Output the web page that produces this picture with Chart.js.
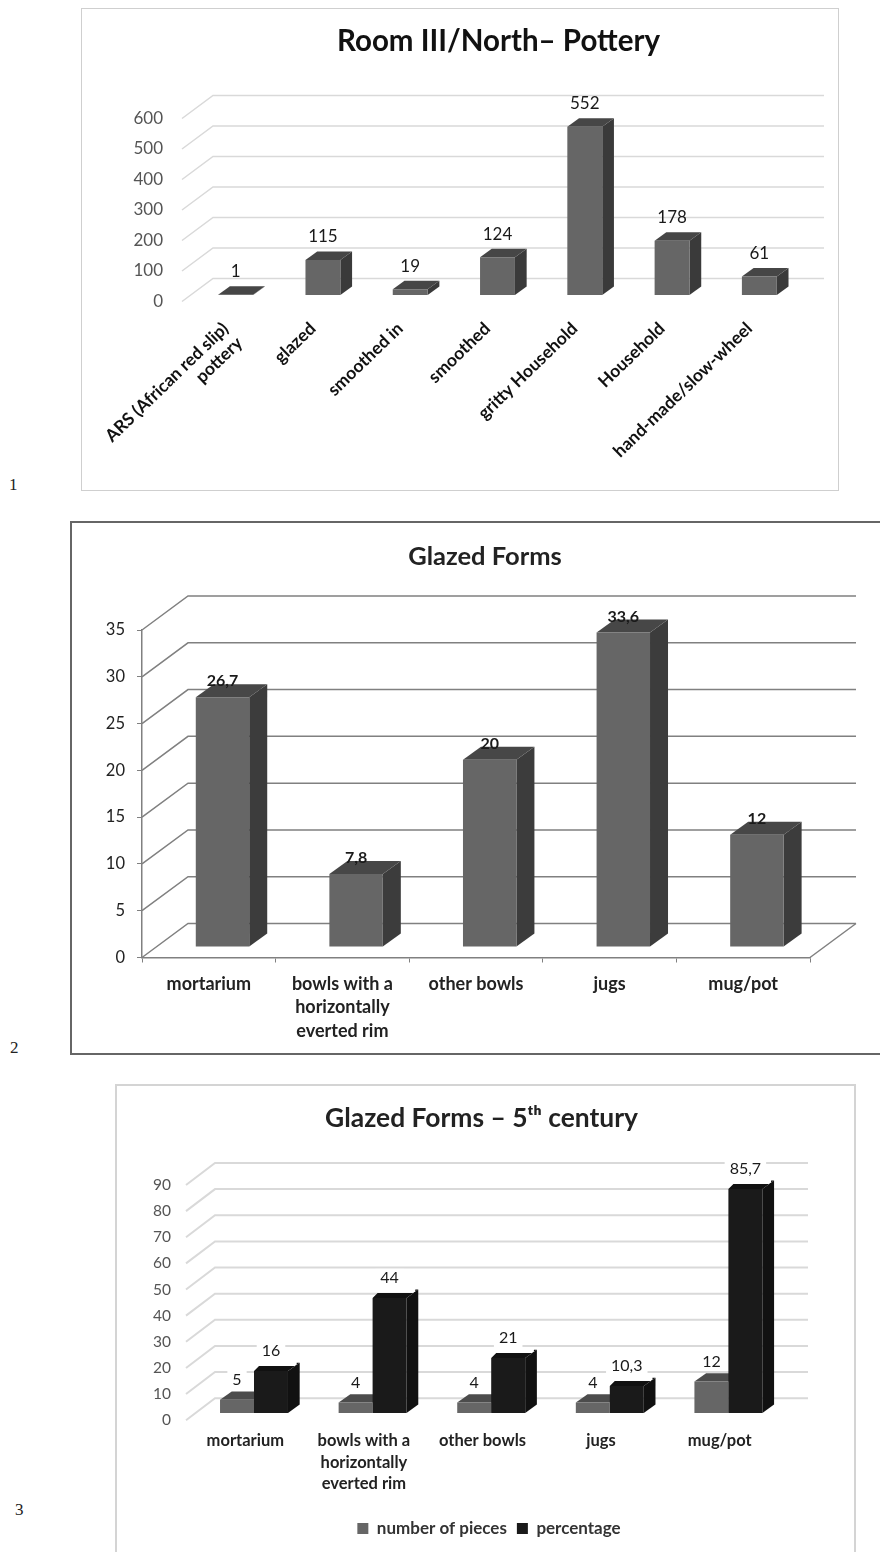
<!DOCTYPE html>
<html>
<head>
<meta charset="utf-8">
<title>Pottery charts</title>
<script src="https://cdn.jsdelivr.net/npm/chart.js@4"></script>
<style>
  html, body { margin: 0; padding: 0; background: #fff; width: 880px; height: 1552px; overflow: hidden; }
  .box { position: absolute; box-sizing: border-box; background: #fff; }
  canvas { position: absolute; }
  .num { position: absolute; font: 17px "Liberation Serif", serif; color: #222; }
</style>
</head>
<body>
<div class="box" style="left:81px;top:8px;width:758px;height:483px;border:1.5px solid #cfcfcf"></div>
<div class="box" style="left:70px;top:521px;width:830px;height:534px;border:2px solid #666"></div>
<div class="box" style="left:115px;top:1084px;width:741px;height:500px;border:2px solid #d4d4d4"></div>
<canvas id="chart1" width="796" height="482" style="left:100px;top:8px"></canvas>
<canvas id="chart2" width="830" height="532" style="left:70px;top:522px"></canvas>
<canvas id="chart3" width="746" height="468" style="left:115px;top:1084px"></canvas>
<div class="num" style="left:9px;top:475px">1</div>
<div class="num" style="left:10px;top:1038px">2</div>
<div class="num" style="left:15px;top:1500px">3</div>
<script>
const potteryLabels = [['ARS (African red slip)', 'pottery'], 'glazed', 'smoothed in', 'smoothed', 'gritty Household', 'Household', 'hand-made/slow-wheel'];
const potteryValues = [1, 115, 19, 124, 552, 178, 61];

const formLabels = ['mortarium', ['bowls with a', 'horizontally', 'everted rim'], 'other bowls', 'jugs', 'mug/pot'];
const glazedValues = [26.7, 7.8, 20, 33.6, 12];

const piecesValues = [5, 4, 4, 4, 12];
const percentValues = [16, 44, 21, 10.3, 85.7];

Chart.defaults.font.family = 'Lato, "Open Sans", sans-serif';
Chart.defaults.animation = false;

// fake 3D: back wall lines, side and top faces of bars, value labels
const depth3d = {
  id: 'depth3d',
  afterLayout(chart, args, o) {
    // title and legend are not centred on the plot in the original
    if (o.titleShift) {
      chart.titleBlock.left += o.titleShift;
      chart.titleBlock.right += o.titleShift;
    }
    if (o.legendShift) {
      chart.legend.left += o.legendShift;
      chart.legend.right += o.legendShift;
    }
  },
  beforeDatasetsDraw(chart, args, o) {
    const ctx = chart.ctx, y = chart.scales.y, a = chart.chartArea;
    ctx.save();
    ctx.strokeStyle = o.wallColor;
    ctx.lineWidth = o.wallWidth;
    y.ticks.forEach(t => {
      const py = y.getPixelForValue(t.value);
      ctx.beginPath();
      ctx.moveTo(a.left, py);
      ctx.lineTo(a.left + o.wall[0], py + o.wall[1]);
      ctx.lineTo(a.right + o.wall[0], py + o.wall[1]);
      ctx.stroke();
    });
    if (o.floor) {
      ctx.beginPath();
      ctx.moveTo(a.right, a.bottom);
      ctx.lineTo(a.right + o.wall[0], a.bottom + o.wall[1]);
      ctx.stroke();
    }
    ctx.translate(o.shift[0], o.shift[1]);
    chart.data.datasets.forEach((ds, i) => {
      chart.getDatasetMeta(i).data.forEach(bar => {
        const l = bar.x - bar.width / 2, r = bar.x + bar.width / 2;
        const dx = o.bar[0], dy = o.bar[1];
        ctx.fillStyle = ds.sideColor;
        ctx.beginPath();
        ctx.moveTo(r, bar.y);
        ctx.lineTo(r + dx, bar.y + dy);
        ctx.lineTo(r + dx, bar.base + dy);
        ctx.lineTo(r, bar.base);
        ctx.closePath();
        ctx.fill();
        ctx.fillStyle = ds.topColor;
        ctx.beginPath();
        ctx.moveTo(l, bar.y);
        if (ds.flatTop) {
          // black bars have a thin lid with a small notch at the back corner
          ctx.lineTo(l + 5, bar.y - 5);
          ctx.lineTo(r + dx - 3, bar.y - 5);
          ctx.lineTo(r + dx - 3, bar.y + dy);
        } else {
          ctx.lineTo(l + dx, bar.y + dy);
        }
        ctx.lineTo(r + dx, bar.y + dy);
        ctx.lineTo(r, bar.y);
        ctx.closePath();
        ctx.fill();
      });
    });
  },
  afterDatasetsDraw(chart, args, o) {
    const ctx = chart.ctx;
    ctx.restore();
    ctx.save();
    ctx.font = o.labelFont;
    ctx.textAlign = 'center';
    ctx.textBaseline = 'middle';
    chart.data.datasets.forEach((ds, i) => {
      chart.getDatasetMeta(i).data.forEach((bar, k) => {
        const txt = String(ds.data[k]).replace('.', ',');
        const lx = bar.x + o.shift[0], ly = bar.y + o.shift[1] - o.labelGap;
        if (o.labelBg) {
          const w = ctx.measureText(txt).width + 10;
          ctx.fillStyle = '#fff';
          ctx.fillRect(lx - w / 2, ly - 9, w, 18);
        }
        ctx.fillStyle = '#1a1a1a';
        ctx.fillText(txt, lx, ly);
      });
    });
    ctx.restore();
  }
};

function fixY(width) {
  return s => { s.width = width; s.paddingTop = 0; s.paddingBottom = 0; };
}
function fixX(height) {
  return s => { s.height = height; s.paddingLeft = 0; s.paddingRight = 0; };
}

new Chart('chart1', {
  type: 'bar',
  plugins: [depth3d],
  data: {
    labels: potteryLabels,
    datasets: [{ data: potteryValues, backgroundColor: '#666666', sideColor: '#3a3a3a', topColor: '#464646', clip: false, categoryPercentage: 0.4, barPercentage: 1 }]
  },
  options: {
    responsive: false,
    layout: { padding: { right: 103 } },
    plugins: {
      legend: { display: false },
      tooltip: { enabled: false },
      title: { display: true, text: 'Room III/North\u2013 Pottery', color: '#111', font: { size: 29.5, weight: 'bold' }, padding: { top: 15.3, bottom: 59.8 } },
      depth3d: { wall: [31, -23], shift: [10, -6.5], bar: [11.7, -8.5], wallColor: '#d9d9d9', wallWidth: 1.5, labelFont: '17px Lato', labelGap: 23, titleShift: 52 }
    },
    scales: {
      y: {
        min: 0, max: 600,
        afterFit: fixY(82),
        border: { display: false },
        grid: { display: false },
        ticks: { stepSize: 100, padding: 11, color: '#555', font: { size: 17 } }
      },
      x: {
        afterFit: fixX(188.5),
        border: { display: false },
        grid: { display: false },
        ticks: { minRotation: 44, maxRotation: 44, padding: 9, color: '#111', font: { size: 17.5, weight: 'bold', lineHeight: 1.15 } }
      }
    }
  }
});

new Chart('chart2', {
  type: 'bar',
  plugins: [depth3d],
  data: {
    labels: formLabels,
    datasets: [{ data: glazedValues, backgroundColor: '#666666', sideColor: '#3c3c3c', topColor: '#474747', clip: false, categoryPercentage: 0.4, barPercentage: 1 }]
  },
  options: {
    responsive: false,
    layout: { padding: { right: 90 } },
    plugins: {
      legend: { display: false },
      tooltip: { enabled: false },
      title: { display: true, text: 'Glazed Forms', color: '#222', font: { size: 25.5, weight: 'bold' }, padding: { top: 19.7, bottom: 57.7 } },
      depth3d: { wall: [46, -34], shift: [13.7, -10.5], bar: [18, -13], wallColor: '#808080', wallWidth: 1.5, floor: true, labelFont: 'bold 16px Lato', labelGap: 16, titleShift: 45 }
    },
    scales: {
      y: {
        min: 0, max: 35,
        afterFit: fixY(72),
        border: { color: '#808080', width: 1.5 },
        grid: { drawOnChartArea: false, tickLength: 5, color: '#808080' },
        ticks: { stepSize: 5, padding: 12, color: '#222', font: { size: 16.5 } }
      },
      x: {
        afterFit: fixX(96.5),
        border: { color: '#808080', width: 1.5 },
        grid: { drawOnChartArea: false, tickLength: 5, color: '#808080', offset: true },
        ticks: { maxRotation: 0, padding: 10, color: '#222', font: { size: 18, weight: 'bold', lineHeight: 1.3 } }
      }
    }
  }
});

new Chart('chart3', {
  type: 'bar',
  plugins: [depth3d],
  data: {
    labels: formLabels,
    datasets: [
      { label: 'number of pieces', data: piecesValues, backgroundColor: '#666666', sideColor: '#3c3c3c', topColor: '#4c4c4c', clip: false, categoryPercentage: 0.573, barPercentage: 1 },
      { label: 'percentage', data: percentValues, backgroundColor: '#1a1a1a', sideColor: '#111111', topColor: '#111111', flatTop: true, clip: false, categoryPercentage: 0.573, barPercentage: 1 }
    ]
  },
  options: {
    responsive: false,
    layout: { padding: { right: 82, bottom: 5 } },
    plugins: {
      tooltip: { enabled: false },
      title: { display: true, fullSize: false, text: 'Glazed Forms \u2013 5\u1d57\u02b0 century', color: '#222', font: { size: 26.4, weight: 'bold' }, padding: { top: 19, bottom: 50.3 } },
      legend: {
        position: 'bottom',
        labels: { boxWidth: 11, boxHeight: 11, padding: 10, color: '#333', font: { size: 17, weight: 'bold' } }
      },
      depth3d: { wall: [29, -22], shift: [8.7, -7.3], bar: [11.7, -8.3], wallColor: '#d9d9d9', wallWidth: 2, labelFont: '16px Lato', labelGap: 20, labelBg: true, titleShift: -1, legendShift: 42 }
    },
    scales: {
      y: {
        min: 0, max: 90,
        afterFit: fixY(71),
        border: { display: false },
        grid: { display: false },
        ticks: { stepSize: 10, padding: 7, color: '#555', font: { size: 15.5 } }
      },
      x: {
        afterFit: fixX(89.8),
        border: { display: false },
        grid: { display: false },
        ticks: { maxRotation: 0, padding: 2, color: '#222', font: { size: 16.5, weight: 'bold', lineHeight: 1.3 } }
      }
    }
  }
});
</script>
</body>
</html>
